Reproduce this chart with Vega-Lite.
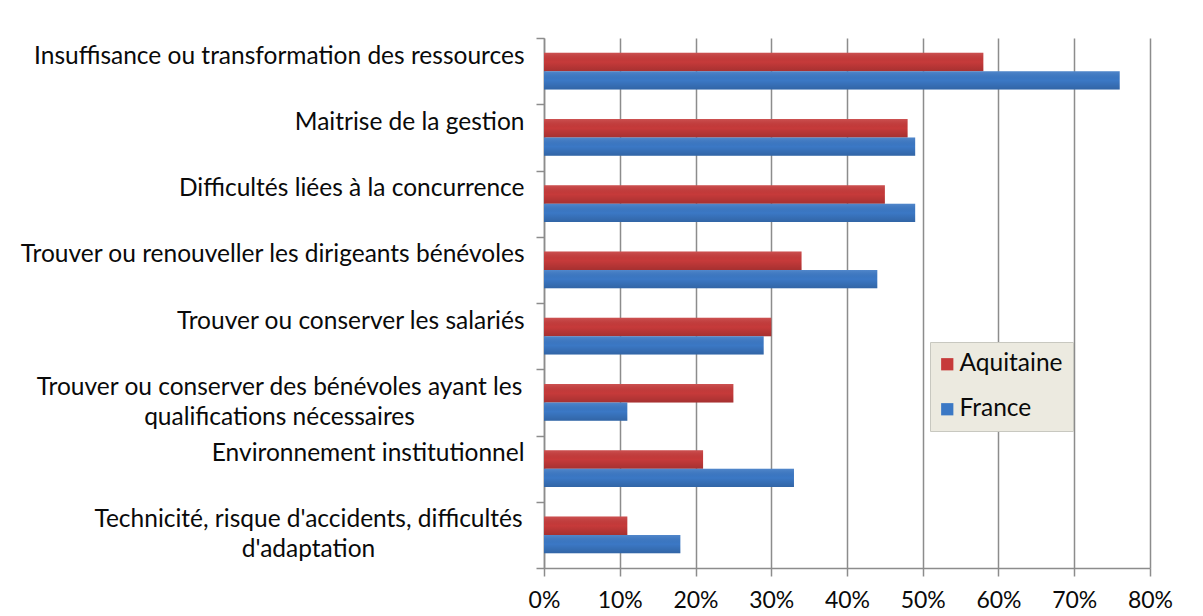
{
  "$schema": "https://vega.github.io/schema/vega-lite/v6.json",
  "width": 606,
  "height": 530,
  "autosize": "none",
  "padding": {"left": 544, "top": 38, "right": 53, "bottom": 48},
  "background": "white",
  "data": {
    "values": [
      {"categorie": "Insuffisance ou transformation des ressources", "zone": "Aquitaine", "part": 0.58},
      {"categorie": "Insuffisance ou transformation des ressources", "zone": "France", "part": 0.76},
      {"categorie": "Maitrise de la gestion", "zone": "Aquitaine", "part": 0.48},
      {"categorie": "Maitrise de la gestion", "zone": "France", "part": 0.49},
      {"categorie": "Difficultés liées à la concurrence", "zone": "Aquitaine", "part": 0.45},
      {"categorie": "Difficultés liées à la concurrence", "zone": "France", "part": 0.49},
      {"categorie": "Trouver ou renouveller les dirigeants bénévoles", "zone": "Aquitaine", "part": 0.34},
      {"categorie": "Trouver ou renouveller les dirigeants bénévoles", "zone": "France", "part": 0.44},
      {"categorie": "Trouver ou conserver les salariés", "zone": "Aquitaine", "part": 0.30},
      {"categorie": "Trouver ou conserver les salariés", "zone": "France", "part": 0.29},
      {"categorie": "Trouver ou conserver des bénévoles ayant les qualifications nécessaires", "zone": "Aquitaine", "part": 0.25},
      {"categorie": "Trouver ou conserver des bénévoles ayant les qualifications nécessaires", "zone": "France", "part": 0.11},
      {"categorie": "Environnement institutionnel", "zone": "Aquitaine", "part": 0.21},
      {"categorie": "Environnement institutionnel", "zone": "France", "part": 0.33},
      {"categorie": "Technicité, risque d'accidents, difficultés d'adaptation", "zone": "Aquitaine", "part": 0.11},
      {"categorie": "Technicité, risque d'accidents, difficultés d'adaptation", "zone": "France", "part": 0.18}
    ]
  },
  "config": {
    "view": {"stroke": null},
    "font": "Lato"
  },
  "encoding": {
    "y": {
      "field": "categorie",
      "type": "nominal",
      "sort": null,
      "title": null,
      "scale": {"paddingInner": 0, "paddingOuter": 0},
      "axis": {
        "tickBand": "extent",
        "domainColor": "#8c8c8c",
        "domainWidth": 1.5,
        "tickColor": "#8c8c8c",
        "tickWidth": 1.5,
        "tickSize": 8,
        "labelFont": "Lato",
        "labelFontSize": 24.5,
        "labelColor": "#0a0a0a",
        "labelLineHeight": 30,
        "labelLimit": 700,
        "labelBaseline": "middle",
        "labelOffset": -15,
        "labelAlign": {"condition": {"test": "datum.value == 'Trouver ou conserver des bénévoles ayant les qualifications nécessaires' || datum.value == 'Technicité, risque d\\'accidents, difficultés d\\'adaptation'", "value": "center"}, "value": "right"},
        "labelPadding": {"condition": [
          {"test": "datum.value == 'Trouver ou conserver des bénévoles ayant les qualifications nécessaires'", "value": 257},
          {"test": "datum.value == 'Technicité, risque d\\'accidents, difficultés d\\'adaptation'", "value": 228}
        ], "value": 12},
        "labelExpr": "datum.label == 'Trouver ou conserver des bénévoles ayant les qualifications nécessaires' ? ['Trouver ou conserver des bénévoles ayant les', 'qualifications nécessaires'] : datum.label == 'Technicité, risque d\\'accidents, difficultés d\\'adaptation' ? ['Technicité, risque d\\'accidents, difficultés', 'd\\'adaptation'] : datum.label"
      }
    },
    "x": {
      "field": "part",
      "type": "quantitative",
      "title": null,
      "scale": {"domain": [0, 0.8], "nice": false},
      "axis": {
        "format": ".0%",
        "values": [0, 0.1, 0.2, 0.3, 0.4, 0.5, 0.6, 0.7, 0.8],
        "grid": true,
        "gridColor": "#8c8c8c",
        "gridWidth": 1.5,
        "domainColor": "#8c8c8c",
        "domainWidth": 1.5,
        "tickColor": "#8c8c8c",
        "tickWidth": 1.5,
        "tickSize": 8,
        "labelFlush": false,
        "labelOverlap": false,
        "labelFont": "Lato",
        "labelFontSize": 23,
        "labelColor": "#0a0a0a",
        "labelPadding": 13
      }
    },
    "yOffset": {"field": "zone", "type": "nominal", "sort": ["Aquitaine", "France"], "scale": {"paddingInner": 0, "paddingOuter": 0.8}}
  },
  "layer": [
    {
      "mark": {"type": "bar"},
      "encoding": {
        "color": {
          "field": "zone",
          "type": "nominal",
          "scale": {"domain": ["Aquitaine", "France"], "range": ["#C63A3A", "#3B78C5"]},
          "legend": {
            "title": null,
            "orient": "none",
            "legendX": 386,
            "legendY": 304,
            "fillColor": "#ECEAE0",
            "strokeColor": "#c8c8c0",
            "padding": 10,
            "symbolType": "square",
            "symbolSize": 150,
            "symbolStrokeWidth": 0,
            "symbolOffset": -5,
            "labelFont": "Lato",
            "labelFontSize": 24.5,
            "labelColor": "#0a0a0a",
            "rowPadding": 20,
            "labelOffset": 0
          }
        }
      }
    },
    {
      "mark": {
        "type": "bar",
        "fill": {
          "gradient": "linear",
          "x1": 0, "y1": 0, "x2": 0, "y2": 1,
          "stops": [
            {"offset": 0, "color": "rgba(255,255,255,0.12)"},
            {"offset": 0.5, "color": "rgba(0,0,0,0)"},
            {"offset": 1, "color": "rgba(0,0,0,0.16)"}
          ]
        }
      },
      "encoding": {}
    }
  ]
}
